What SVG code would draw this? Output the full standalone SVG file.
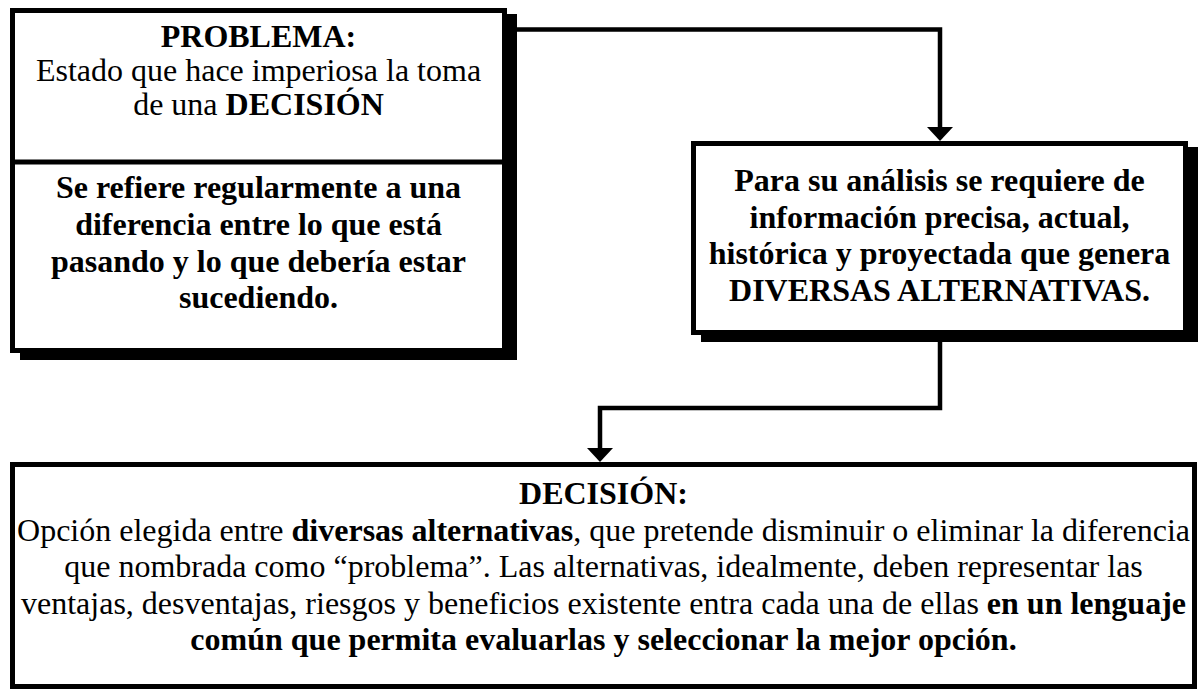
<svg xmlns="http://www.w3.org/2000/svg" width="1203" height="692" viewBox="0 0 1203 692">
<style>
  text { font-family: "Liberation Serif", "Times New Roman", serif; font-size: 32px; fill: #000; }
  .b { font-weight: bold; }
  .box { fill: #fff; stroke: #000; stroke-width: 5; }
  .shadow { fill: #000; }
  .conn { fill: none; stroke: #000; stroke-width: 4.5; }
</style>
<defs>
  <marker id="arrow" markerUnits="userSpaceOnUse" markerWidth="30" markerHeight="30" viewBox="0 -15 16 30" refX="0" refY="0" orient="auto">
    <path d="M0,-13 L14,0 L0,13 z" fill="#000"/>
  </marker>
</defs>
<rect width="1203" height="692" fill="#fff"/>

<g id="connectors">
  <path class="conn" d="M515,29.5 H940 V127" marker-end="url(#arrow)"/>
  <path class="conn" d="M940,340 V408 H600 V448" marker-end="url(#arrow)"/>
</g>

<g id="problema">
  <rect class="shadow" x="20" y="14" width="497" height="346"/>
  <rect class="box" x="12.5" y="10.5" width="492" height="340"/>
  <line x1="10" y1="162" x2="507" y2="162" stroke="#000" stroke-width="5"/>
  <text x="258.5" y="47" text-anchor="middle" class="b">PROBLEMA:</text>
  <text x="258.5" y="81" text-anchor="middle">Estado que hace imperiosa la toma</text>
  <text x="258.5" y="115" text-anchor="middle">de una <tspan class="b">DECISIÓN</tspan></text>
  <text x="258.5" y="198" text-anchor="middle" class="b">Se refiere regularmente a una</text>
  <text x="258.5" y="235" text-anchor="middle" class="b">diferencia entre lo que está</text>
  <text x="258.5" y="271.5" text-anchor="middle" class="b">pasando y lo que debería estar</text>
  <text x="258.5" y="308" text-anchor="middle" class="b">sucediendo.</text>
</g>

<g id="analisis">
  <rect class="shadow" x="701" y="147" width="497" height="195"/>
  <rect class="box" x="693.5" y="143.5" width="492" height="189"/>
  <text x="939.5" y="191" text-anchor="middle" class="b">Para su análisis se requiere de</text>
  <text x="939.5" y="227.5" text-anchor="middle" class="b">información precisa, actual,</text>
  <text x="939.5" y="264" text-anchor="middle" class="b">histórica y proyectada que genera</text>
  <text x="939.5" y="300.5" text-anchor="middle" class="b">DIVERSAS ALTERNATIVAS.</text>
</g>

<g id="decision">
  <rect class="box" x="12.5" y="464.5" width="1182" height="222"/>
  <text x="603.5" y="504" text-anchor="middle" class="b">DECISIÓN:</text>
  <text x="603.5" y="540.5" text-anchor="middle">Opción elegida entre <tspan class="b">diversas alternativas</tspan>, que pretende disminuir o eliminar la diferencia</text>
  <text x="603.5" y="577" text-anchor="middle">que nombrada como “problema”. Las alternativas, idealmente, deben representar las</text>
  <text x="603.5" y="613.5" text-anchor="middle">ventajas, desventajas, riesgos y beneficios existente entra cada una de ellas <tspan class="b">en un lenguaje</tspan></text>
  <text x="603.5" y="650" text-anchor="middle" class="b">común que permita evaluarlas y seleccionar la mejor opción.</text>
</g>
</svg>
